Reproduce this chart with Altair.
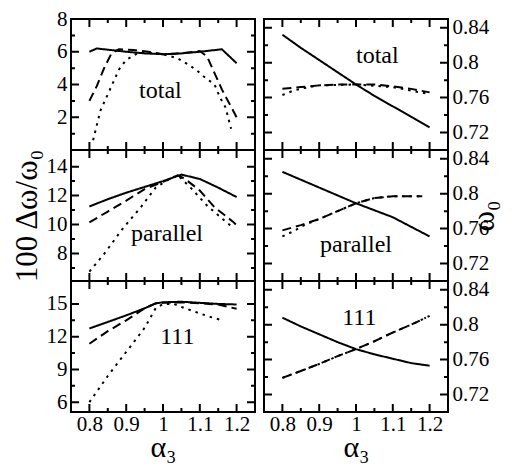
import altair as alt
import pandas as pd

FONT = "Liberation Serif"

tot_dw_solid_a = [0.80, 0.82, 0.86, 0.90, 0.95, 1.00, 1.05, 1.10, 1.16, 1.20]
tot_dw_solid_v = [6.0, 6.2, 6.1, 6.0, 5.9, 5.85, 5.9, 6.0, 6.15, 5.3]
tot_dw_dash_a = [0.80, 0.82, 0.84, 0.86, 0.88, 0.92, 0.96, 1.00, 1.05, 1.10, 1.12, 1.14, 1.16, 1.20]
tot_dw_dash_v = [3.0, 3.9, 5.0, 5.9, 6.15, 6.1, 6.0, 5.85, 5.9, 6.05, 5.7, 4.7, 3.7, 2.0]
tot_dw_dot_a = [0.81, 0.83, 0.86, 0.88, 0.90, 0.93, 0.96, 1.00, 1.04, 1.07, 1.09, 1.11, 1.14, 1.155, 1.17, 1.185]
tot_dw_dot_v = [0.6, 2.4, 3.9, 4.9, 5.5, 5.9, 5.95, 5.85, 5.6, 5.2, 4.9, 4.5, 4.0, 3.2, 2.6, 1.3]

par_dw_solid_a = [0.80, 0.85, 0.90, 0.95, 1.00, 1.05, 1.10, 1.15, 1.20]
par_dw_solid_v = [11.25, 11.75, 12.2, 12.6, 13.0, 13.45, 13.15, 12.55, 11.9]
par_dw_dash_a = [0.80, 0.85, 0.90, 0.95, 1.00, 1.04, 1.06, 1.10, 1.14, 1.19, 1.20]
par_dw_dash_v = [10.15, 10.9, 11.65, 12.45, 12.95, 13.4, 13.15, 12.35, 11.2, 10.2, 9.95]
par_dw_dot_a = [0.80, 0.84, 0.89, 0.94, 0.98, 1.02, 1.04, 1.075, 1.12, 1.175, 1.19]
par_dw_dot_v = [6.75, 7.97, 9.7, 11.2, 12.55, 13.2, 13.4, 12.55, 11.3, 10.1, 9.8]

o111_dw_solid_a = [0.80, 0.85, 0.90, 0.95, 0.98, 1.00, 1.05, 1.10, 1.15, 1.20]
o111_dw_solid_v = [12.75, 13.35, 13.95, 14.6, 15.05, 15.15, 15.2, 15.1, 15.0, 14.95]
o111_dw_dash_a = [0.80, 0.85, 0.90, 0.95, 0.98, 1.00, 1.05, 1.10, 1.15, 1.20]
o111_dw_dash_v = [11.35, 12.5, 13.5, 14.6, 15.05, 15.1, 15.15, 15.05, 14.95, 14.55]
o111_dw_dot_a = [0.80, 0.85, 0.90, 0.95, 0.98, 1.00, 1.03, 1.06, 1.12, 1.16]
o111_dw_dot_v = [6.0, 8.4, 10.6, 12.8, 14.6, 15.0, 15.0, 14.6, 13.9, 13.5]

tot_w_solid_a = [0.80, 0.85, 0.90, 0.95, 1.00, 1.05, 1.10, 1.15, 1.20]
tot_w_solid_v = [0.832, 0.817, 0.803, 0.789, 0.775, 0.762, 0.750, 0.738, 0.726]
tot_w_dash_a = [0.80, 0.85, 0.90, 0.95, 1.00, 1.05, 1.10, 1.15, 1.20]
tot_w_dash_v = [0.770, 0.772, 0.774, 0.775, 0.775, 0.775, 0.773, 0.770, 0.766]
tot_w_dot_a = [0.80, 0.83, 0.86, 0.90, 1.00, 1.10, 1.15, 1.20]
tot_w_dot_v = [0.763, 0.768, 0.771, 0.774, 0.775, 0.772, 0.768, 0.764]

par_w_solid_a = [0.80, 0.85, 0.90, 0.95, 1.00, 1.05, 1.10, 1.15, 1.20]
par_w_solid_v = [0.825, 0.816, 0.807, 0.798, 0.789, 0.781, 0.773, 0.762, 0.751]
par_w_dash_a = [0.80, 0.85, 0.90, 0.95, 1.00, 1.05, 1.10, 1.15, 1.18]
par_w_dash_v = [0.758, 0.764, 0.771, 0.780, 0.789, 0.795, 0.797, 0.797, 0.797]
par_w_dot_a = [0.80, 0.83, 0.86, 0.90, 0.95, 1.00, 1.05, 1.10, 1.15, 1.18]
par_w_dot_v = [0.751, 0.757, 0.764, 0.771, 0.780, 0.789, 0.795, 0.797, 0.797, 0.797]

o111_w_solid_a = [0.80, 0.85, 0.90, 0.95, 1.00, 1.05, 1.10, 1.15, 1.20]
o111_w_solid_v = [0.808, 0.798, 0.789, 0.780, 0.772, 0.766, 0.761, 0.756, 0.753]
o111_w_dash_a = [0.80, 0.85, 0.90, 0.95, 1.00, 1.05, 1.10, 1.15, 1.19]
o111_w_dash_v = [0.739, 0.747, 0.755, 0.764, 0.772, 0.781, 0.791, 0.800, 0.808]
o111_w_dot_a = [0.80, 0.85, 0.90, 0.95, 1.00, 1.05, 1.10, 1.15, 1.20]
o111_w_dot_v = [0.739, 0.747, 0.755, 0.764, 0.772, 0.781, 0.791, 0.800, 0.810]

X_DOM = [0.75, 1.25]
X_MAJ = [0.8, 0.9, 1.0, 1.1, 1.2]
X_MIN = [0.85, 0.95, 1.05, 1.15]

Y1_DOM, Y1_MAJ, Y1_MIN = [0, 8], [2, 4, 6, 8], [1, 3, 5, 7]
Y2_DOM, Y2_MAJ, Y2_MIN = [6.1, 15.15], [8, 10, 12, 14], [7, 9, 11, 13]
Y3_DOM, Y3_MAJ, Y3_MIN = [5.1, 17.1], [6, 9, 12, 15], [7.5, 10.5, 13.5]
W_DOM, W_MAJ, W_MIN = [0.70, 0.85], [0.72, 0.76, 0.8, 0.84], [0.74, 0.78, 0.82]

LABELS = ["total", "parallel", "111", "total", "parallel", "111"]
LABEL_A = [0.993, 1.011, 1.039, 1.058, 1.0, 1.009]
LABEL_V = [3.6, 9.36, 12.0, 0.808, 0.7415, 0.808]

MAJ, MINR = 8, 4
PW, PH = 184, 131


def series_df(sol_a, sol_v, das_a, das_v, dot_a, dot_v):
    rows = []
    for name, xs, ys in (("solid", sol_a, sol_v), ("dashed", das_a, das_v), ("dotted", dot_a, dot_v)):
        for a, v in zip(xs, ys):
            rows.append({"alpha": a, "val": v, "series": name})
    return pd.DataFrame(rows)


def tick_rules(values, scale, channel, size):
    # full-span rule whose dash pattern leaves only a short inward tick at each edge
    span = PW if channel == "y" else PH
    ch = alt.Chart(pd.DataFrame({"v": values})).mark_rule(
        color="black", strokeWidth=2, strokeDash=[size, span - 2 * size, size])
    if channel == "y":
        return ch.encode(y=alt.Y("v:Q", scale=scale, axis=None))
    return ch.encode(x=alt.X("v:Q", scale=scale, axis=None))


def panel(df, idx, ydom, ymaj, ymin, side, bottom, ytitle):
    xs = alt.Scale(domain=X_DOM, nice=False, zero=False)
    ys = alt.Scale(domain=ydom, nice=False, zero=False)
    if bottom:
        xlab = alt.Axis(orient="bottom", values=X_MAJ, format="~g", ticks=False, tickSize=0,
                        domain=False, grid=False, labelPadding=1, labelFlush=False,
                        title="α₃", titleFontSize=30, titlePadding=-2)
    else:
        xlab = None
    yargs = dict(orient=side, values=ymaj, format="~g", ticks=False, tickSize=0,
                 domain=False, grid=False, labelPadding=4, titleAngle=270,
                 titleFontSize=31, titlePadding=(12 if side == "right" else 3))
    yargs["title"] = ytitle if ytitle else None
    ylab = alt.Axis(**yargs)

    lines = alt.Chart(df).mark_line(color="black", strokeWidth=2).encode(
        x=alt.X("alpha:Q", scale=xs, axis=xlab),
        y=alt.Y("val:Q", scale=ys, axis=ylab),
        strokeDash=alt.StrokeDash("series:N", legend=None,
                                  scale=alt.Scale(domain=["solid", "dashed", "dotted"],
                                                  range=[[1, 0], [9, 5], [2.5, 5]])),
    )
    tdf = pd.DataFrame({"alpha": [LABEL_A[idx]], "val": [LABEL_V[idx]], "label": [LABELS[idx]]})
    text = alt.Chart(tdf).mark_text(font=FONT, fontSize=24, color="black").encode(
        x=alt.X("alpha:Q", scale=xs, axis=None),
        y=alt.Y("val:Q", scale=ys, axis=None),
        text="label:N",
    )
    layers = [lines, text,
              tick_rules(ymaj, ys, "y", MAJ), tick_rules(ymin, ys, "y", MINR),
              tick_rules(X_MAJ, xs, "x", MAJ), tick_rules(X_MIN, xs, "x", MINR)]
    return alt.layer(*layers).resolve_axis(x="independent", y="independent").properties(width=PW, height=PH)


p1 = panel(series_df(tot_dw_solid_a, tot_dw_solid_v, tot_dw_dash_a, tot_dw_dash_v, tot_dw_dot_a, tot_dw_dot_v),
           0, Y1_DOM, Y1_MAJ, Y1_MIN, "left", False, None)
p2 = panel(series_df(par_dw_solid_a, par_dw_solid_v, par_dw_dash_a, par_dw_dash_v, par_dw_dot_a, par_dw_dot_v),
           1, Y2_DOM, Y2_MAJ, Y2_MIN, "left", False, "100 Δω/ω₀")
p3 = panel(series_df(o111_dw_solid_a, o111_dw_solid_v, o111_dw_dash_a, o111_dw_dash_v, o111_dw_dot_a, o111_dw_dot_v),
           2, Y3_DOM, Y3_MAJ, Y3_MIN, "left", True, None)
p4 = panel(series_df(tot_w_solid_a, tot_w_solid_v, tot_w_dash_a, tot_w_dash_v, tot_w_dot_a, tot_w_dot_v),
           3, W_DOM, W_MAJ, W_MIN, "right", False, None)
p5 = panel(series_df(par_w_solid_a, par_w_solid_v, par_w_dash_a, par_w_dash_v, par_w_dot_a, par_w_dot_v),
           4, W_DOM, W_MAJ, W_MIN, "right", False, "ω₀")
p6 = panel(series_df(o111_w_solid_a, o111_w_solid_v, o111_w_dash_a, o111_w_dash_v, o111_w_dot_a, o111_w_dot_v),
           5, W_DOM, W_MAJ, W_MIN, "right", True, None)

chart = alt.concat(p1, p4, p2, p5, p3, p6, columns=2,
                   spacing={"row": 0, "column": 9}, bounds="flush",
                   padding={"left": 1, "top": -1, "right": 5, "bottom": 2}
                   ).configure_view(stroke="black", strokeWidth=2
                   ).configure_axis(labelFont=FONT, titleFont=FONT, labelFontSize=21,
                                    titleFontWeight="normal", labelColor="black",
                                    titleColor="black")

chart.save("out.html", embed_options={"renderer": "svg", "actions": False})
